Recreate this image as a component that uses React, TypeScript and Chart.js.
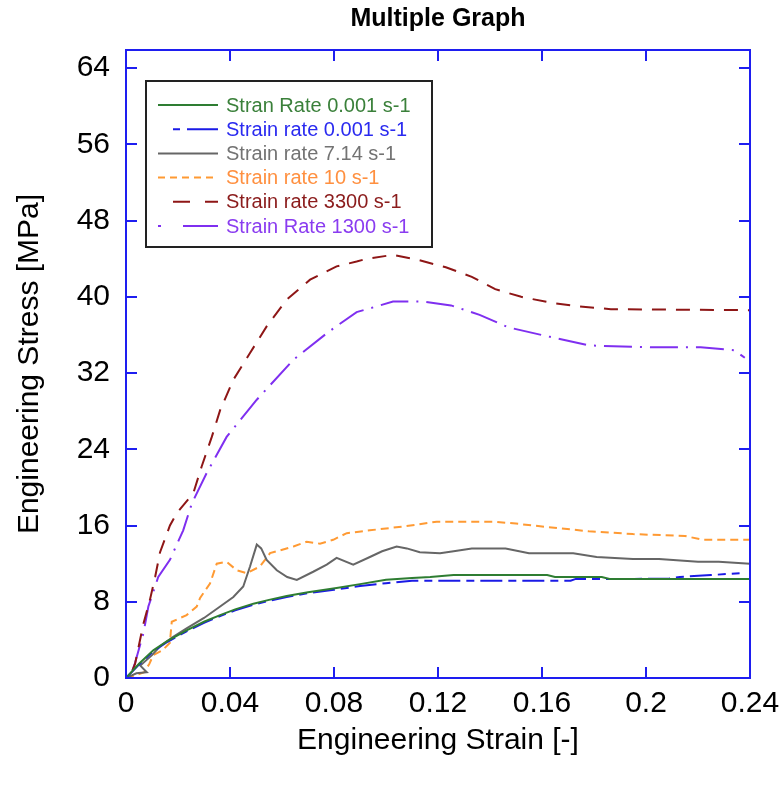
import React, { useEffect, useRef } from "react";
import { Chart, registerables } from "chart.js";

Chart.register(...registerables);

const FONT = "'Liberation Sans', Arial, Helvetica, sans-serif";
const AXIS_COLOR = "#1e1ef0";

const chartTitle = "Multiple Graph";
const xTitle = "Engineering Strain [-]";
const yTitle = "Engineering Stress [MPa]";

const xTickValues = [0, 0.04, 0.08, 0.12, 0.16, 0.2, 0.24];
const xTickLabels = ["0", "0.04", "0.08", "0.12", "0.16", "0.2", "0.24"];
const yTickValues = [0, 8, 16, 24, 32, 40, 48, 56, 64];
const yTickLabels = ["0", "8", "16", "24", "32", "40", "48", "56", "64"];

const seriesNames = [
  "Stran Rate 0.001 s-1",
  "Strain rate 0.001 s-1",
  "Strain rate 7.14 s-1",
  "Strain rate 10 s-1",
  "Strain rate 3300 s-1",
  "Strain Rate 1300 s-1",
];

const greenStrain = [0, 0.005, 0.0105, 0.016, 0.0233, 0.03, 0.0362, 0.042, 0.049, 0.055, 0.0618, 0.07, 0.081, 0.09, 0.1, 0.11, 0.117, 0.126, 0.162, 0.165, 0.183, 0.186, 0.24];
const greenStress = [0, 1.5, 2.9, 3.9, 5.0, 5.9, 6.6, 7.2, 7.8, 8.2, 8.6, 9.0, 9.45, 9.85, 10.3, 10.5, 10.6, 10.8, 10.8, 10.6, 10.6, 10.4, 10.4];

const blueStrain = [0, 0.005, 0.0105, 0.016, 0.0233, 0.03, 0.0362, 0.042, 0.049, 0.055, 0.0618, 0.07, 0.08, 0.09, 0.1, 0.11, 0.171, 0.173, 0.195, 0.209, 0.213, 0.225, 0.236];
const blueStress = [0, 1.4, 2.8, 3.8, 4.9, 5.8, 6.5, 7.1, 7.7, 8.1, 8.5, 8.9, 9.25, 9.65, 9.95, 10.2, 10.2, 10.4, 10.4, 10.45, 10.6, 10.8, 11.0];

const grayStrain = [0, 0.004, 0.008, 0.0055, 0.01, 0.013, 0.018, 0.0233, 0.03, 0.0362, 0.0413, 0.0451, 0.0477, 0.0503, 0.052, 0.0541, 0.058, 0.062, 0.0657, 0.072, 0.0772, 0.081, 0.0874, 0.0938, 0.0985, 0.1041, 0.108, 0.113, 0.1208, 0.126, 0.133, 0.146, 0.155, 0.172, 0.181, 0.195, 0.205, 0.22, 0.228, 0.24];
const grayStress = [0, 0.5, 0.6, 1.3, 2.4, 3.3, 4.3, 5.2, 6.3, 7.5, 8.5, 9.6, 11.7, 14.0, 13.6, 12.4, 11.3, 10.6, 10.3, 11.15, 11.9, 12.6, 11.9, 12.7, 13.3, 13.8, 13.6, 13.2, 13.1, 13.3, 13.6, 13.6, 13.1, 13.1, 12.7, 12.5, 12.5, 12.2, 12.2, 12.0];

const orangeStrain = [0, 0.004, 0.007, 0.009, 0.0105, 0.014, 0.0169, 0.0172, 0.0176, 0.0233, 0.0272, 0.0285, 0.0323, 0.0349, 0.0387, 0.0426, 0.0464, 0.0515, 0.0554, 0.0644, 0.0695, 0.0746, 0.0797, 0.0849, 0.0938, 0.1067, 0.1195, 0.142, 0.15, 0.16, 0.178, 0.195, 0.215, 0.222, 0.24];
const orangeStress = [0, 0.3, 0.6, 1.5, 2.4, 2.9, 3.7, 4.7, 5.9, 6.6, 7.5, 8.4, 9.9, 12.0, 12.2, 11.3, 11.0, 11.7, 13.1, 13.8, 14.3, 14.1, 14.5, 15.2, 15.5, 15.9, 16.4, 16.4, 16.2, 15.9, 15.4, 15.1, 14.9, 14.5, 14.5];

const redStrain = [0.0025, 0.0035, 0.0067, 0.0092, 0.0112, 0.0131, 0.0169, 0.0195, 0.0259, 0.0291, 0.033, 0.0362, 0.0413, 0.0477, 0.0541, 0.0618, 0.0708, 0.081, 0.0887, 0.0927, 0.1027, 0.112, 0.123, 0.133, 0.142, 0.152, 0.163, 0.174, 0.1865, 0.24];
const redStress = [0.8, 1.5, 5.7, 8.2, 10.6, 13.2, 16.0, 17.3, 19.4, 22.2, 25.3, 28.1, 31.3, 34.1, 36.9, 39.7, 41.8, 43.2, 43.7, 44.0, 44.4, 43.9, 43.1, 42.1, 40.8, 40.0, 39.4, 39.0, 38.7, 38.6];

const purpleStrain = [0.0025, 0.0035, 0.0067, 0.0086, 0.0124, 0.0169, 0.022, 0.0253, 0.031, 0.0387, 0.0503, 0.0644, 0.0778, 0.0887, 0.0927, 0.1027, 0.114, 0.125, 0.136, 0.147, 0.163, 0.178, 0.202, 0.221, 0.234, 0.238];
const purpleStress = [0.8, 1.6, 4.7, 7.5, 10.6, 12.4, 15.5, 18.3, 21.5, 25.3, 29.2, 33.4, 36.3, 38.4, 38.7, 39.5, 39.5, 39.1, 38.1, 36.8, 35.8, 34.9, 34.7, 34.7, 34.4, 33.6];

const seriesStrain = [greenStrain, blueStrain, grayStrain, orangeStrain, redStrain, purpleStrain];
const seriesStress = [greenStress, blueStress, grayStress, orangeStress, redStress, purpleStress];

// styles
const lineColors = ["#2e7d32", "#1a1ae6", "#666666", "#ff9a33", "#8e1616", "#7f2ff0"];
const textColors = ["#3a803a", "#2a2af0", "#737373", "#ff9040", "#8b1c1c", "#8a3cf0"];
const lineDashes: number[][] = [[], [22, 6, 8, 6], [], [8, 5], [14, 10], [28, 8, 2, 8]];
const legendDashes: number[][] = [[], [7, 7, 31, 80], [], [7, 5], [17, 15, 13, 80], [3, 22, 35, 80]];
const legendStarts = [0, 15, 0, 0, 15, 0];

const framePlugin = {
  id: "framePlugin",
  afterDatasetsDraw(chart: any) {
    const { ctx, chartArea: a, scales } = chart;
    ctx.save();
    ctx.strokeStyle = AXIS_COLOR;
    ctx.lineWidth = 2;
    ctx.beginPath();
    for (const v of xTickValues) {
      const px = Math.round(scales.x.getPixelForValue(v));
      ctx.moveTo(px, a.bottom);
      ctx.lineTo(px, a.bottom - 11);
      ctx.moveTo(px, a.top);
      ctx.lineTo(px, a.top + 11);
    }
    for (const v of yTickValues) {
      const py = Math.round(scales.y.getPixelForValue(v));
      ctx.moveTo(a.left, py);
      ctx.lineTo(a.left + 11, py);
      ctx.moveTo(a.right, py);
      ctx.lineTo(a.right - 11, py);
    }
    ctx.stroke();
    ctx.strokeRect(a.left, a.top, a.right - a.left, a.bottom - a.top);
    ctx.restore();
  },
};

const titlePlugin = {
  id: "plotTitle",
  afterDraw(chart: any) {
    const { ctx, chartArea: a } = chart;
    ctx.save();
    ctx.font = `bold 25px ${FONT}`;
    ctx.fillStyle = "#000";
    ctx.textAlign = "center";
    ctx.textBaseline = "middle";
    ctx.fillText(chartTitle, (a.left + a.right) / 2, a.top - 31);
    ctx.restore();
  },
};

const legendPlugin = {
  id: "boxLegend",
  afterDraw(chart: any) {
    const { ctx, chartArea: a } = chart;
    const left = a.left + 20;
    const top = a.top + 31;
    const w = 286;
    const h = 166;
    ctx.save();
    ctx.fillStyle = "#ffffff";
    ctx.fillRect(left, top, w, h);
    ctx.strokeStyle = "#222222";
    ctx.lineWidth = 2;
    ctx.strokeRect(left, top, w, h);
    ctx.font = `20px ${FONT}`;
    ctx.textBaseline = "middle";
    ctx.textAlign = "left";
    seriesNames.forEach((name, i) => {
      const y = top + 24 + i * 24.2;
      const x0 = left + 12 + legendStarts[i];
      const x1 = left + 72;
      ctx.strokeStyle = lineColors[i];
      ctx.lineWidth = 2;
      ctx.setLineDash(legendDashes[i]);
      ctx.beginPath();
      ctx.moveTo(x0, y);
      ctx.lineTo(x1, y);
      ctx.stroke();
      ctx.setLineDash([]);
      ctx.fillStyle = textColors[i];
      ctx.fillText(name, left + 80, y + 1);
    });
    ctx.restore();
  },
};

export default function App() {
  const ref = useRef<HTMLCanvasElement>(null);
  useEffect(() => {
    const canvas = ref.current;
    if (!canvas) return;
    const datasets = seriesNames.map((name, i) => ({
      label: name,
      data: seriesStrain[i].map((x, j) => ({ x, y: seriesStress[i][j] })),
      showLine: true,
      borderColor: lineColors[i],
      backgroundColor: lineColors[i],
      borderWidth: 2,
      borderDash: lineDashes[i],
      pointRadius: 0,
      tension: 0,
      fill: false,
    }));
    const chart = new Chart(canvas, {
      type: "scatter",
      data: { datasets },
      options: {
        responsive: false,
        animation: false,
        layout: { padding: { left: 0, right: 33, top: 50, bottom: 0 } },
        plugins: {
          legend: { display: false },
          tooltip: { enabled: false },
          title: { display: false },
        },
        scales: {
          x: {
            type: "linear",
            min: 0,
            max: 0.24,
            afterBuildTicks: (s: any) => {
              s.ticks = xTickValues.map((v) => ({ value: v }));
            },
            afterFit: (s: any) => {
              s.height = 110;
              s.paddingLeft = 0;
              s.paddingRight = 0;
            },
            grid: { display: false, drawTicks: false },
            border: { display: false },
            ticks: {
              autoSkip: false,
              maxRotation: 0,
              padding: 8,
              color: "#000",
              font: { family: FONT, size: 30 },
              callback: (_v: any, i: number) => xTickLabels[i],
            },
            title: {
              display: true,
              text: xTitle,
              color: "#000",
              font: { family: FONT, size: 30 },
              padding: { top: 0, bottom: 29 },
            },
          },
          y: {
            type: "linear",
            min: 0,
            max: 65.9,
            afterBuildTicks: (s: any) => {
              s.ticks = yTickValues.map((v) => ({ value: v }));
            },
            afterFit: (s: any) => {
              s.width = 126;
              s.paddingTop = 0;
              s.paddingBottom = 0;
            },
            grid: { display: false, drawTicks: false },
            border: { display: false },
            ticks: {
              autoSkip: false,
              padding: 16,
              color: "#000",
              font: { family: FONT, size: 30 },
              callback: (_v: any, i: number) => yTickLabels[i],
            },
            title: {
              display: true,
              text: yTitle,
              color: "#000",
              font: { family: FONT, size: 30 },
              padding: { top: 12, bottom: 0 },
            },
          },
        },
      },
      plugins: [framePlugin, legendPlugin, titlePlugin],
    } as any);
    return () => chart.destroy();
  }, []);
  return (
    <div style={{ position: "absolute", left: 0, top: 0, width: 783, height: 788, background: "#fff" }}>
      <canvas ref={ref} width={783} height={788} style={{ display: "block" }} />
    </div>
  );
}
